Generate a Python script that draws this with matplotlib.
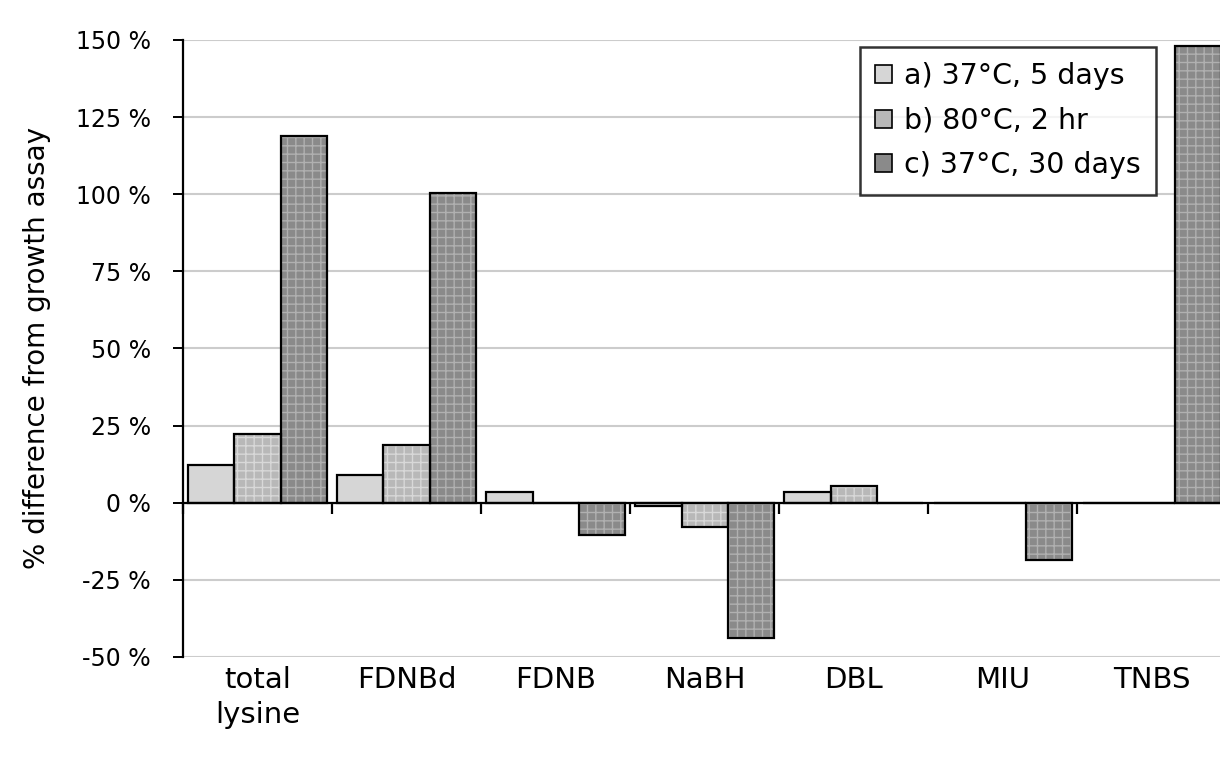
import matplotlib
matplotlib.use("Agg")
import matplotlib.pyplot as plt
import matplotlib.patches as mpatches
import numpy as np

categories = ["total\nlysine", "FDNBd", "FDNB", "NaBH", "DBL", "MIU", "TNBS"]
series_names = ["a) 37°C, 5 days", "b) 80°C, 2 hr", "c) 37°C, 30 days"]
vals_a = [12.3, 9.0, 3.5, -1.0, 3.5, 0.0, 0.0]
vals_b = [22.3, 18.7, 0.0, -8.0, 5.5, 0.0, 0.0]
vals_c = [118.7, 100.5, -10.3, -44.0, 0.0, -18.5, 148.0]
yticks = [-50, -25, 0, 25, 50, 75, 100, 125, 150]

plt.rcParams['font.family'] = ['DejaVu Sans']
plt.rcParams['hatch.linewidth'] = 1.0

fig = plt.figure(figsize=(12.2, 7.59), dpi=100)
ax = fig.add_axes([0.15, 0.1344, 0.855, 0.813])

face = ["#d6d6d6", "#b8b8b8", "#8a8a8a"]
hatchc = ["#cfcfcf", "#d8d8d8", "#b0b0b0"]
hatches = [None, "++", "++"]
w = 0.309
x = np.arange(len(categories))
for i, vals in enumerate([vals_a, vals_b, vals_c]):
    xs = x + (i - 1) * w
    ax.bar(xs, vals, width=w, color=face[i], edgecolor=hatchc[i], linewidth=0,
           hatch=hatches[i], zorder=3)
    ax.bar(xs, vals, width=w, fill=False, edgecolor="black", linewidth=1.6, zorder=4)

ax.set_xlim(-0.5, len(categories) - 0.5)
ax.set_ylim(-50, 150)
ax.set_yticks(yticks)
ax.set_yticklabels([f"{v} %" for v in yticks], fontsize=17)
ax.yaxis.grid(True, color="#cccccc", linewidth=1.5, zorder=0)
ax.set_axisbelow(True)
for s in ["top", "right"]:
    ax.spines[s].set_visible(False)
ax.spines["left"].set_linewidth(1.6)
ax.spines["bottom"].set_position(("data", 0))
ax.spines["bottom"].set_linewidth(1.6)
ax.spines["bottom"].set_zorder(5)
ax.tick_params(axis="y", direction="out", length=7, width=1.4, pad=16)
ax.set_xticks(np.arange(len(categories) + 1) - 0.5)
ax.set_xticklabels([])
ax.tick_params(axis="x", direction="out", length=8, width=1.6)

for xi, lab in zip(x, categories):
    ax.text(xi, -53.0, lab, ha="center", va="top", fontsize=21,
            transform=ax.transData, linespacing=1.3)

ax.set_ylabel("% difference from growth assay", fontsize=20, labelpad=18)

handles = [mpatches.Patch(facecolor=face[i], edgecolor="black", linewidth=1.2) for i in range(3)]
leg = ax.legend(handles, series_names, loc="upper right", bbox_to_anchor=(0.933, 0.989),
                fontsize=20.5, frameon=True, fancybox=False, edgecolor="black",
                handlelength=0.6, handleheight=0.6, handletextpad=0.4,
                borderpad=0.55, labelspacing=0.58, borderaxespad=0.0)
leg.get_frame().set_linewidth(1.8)

fig.savefig("out.png", dpi=100)
